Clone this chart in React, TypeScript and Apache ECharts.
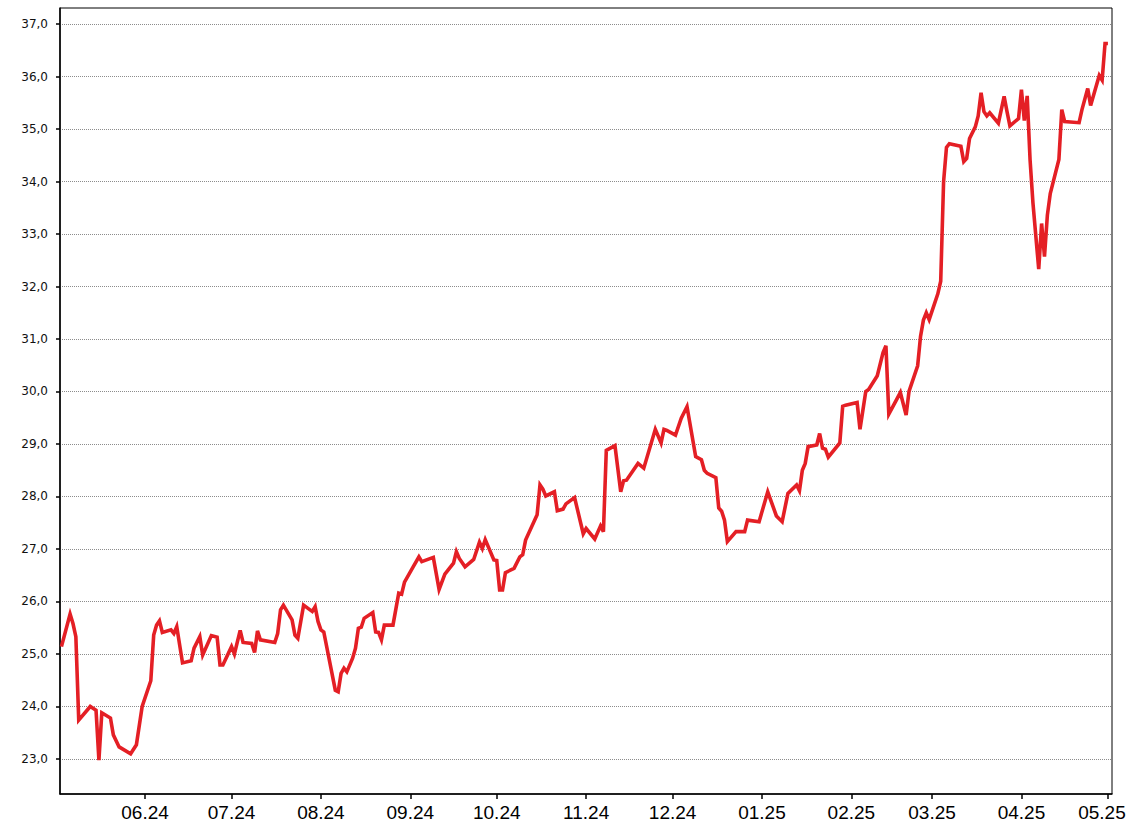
import React, { useEffect, useRef } from 'react';
import * as echarts from 'echarts';

const dates: string[] = [
  '2024-05-03', '2024-05-06', '2024-05-07', '2024-05-08', '2024-05-09', '2024-05-13', '2024-05-15', '2024-05-16',
  '2024-05-17', '2024-05-20', '2024-05-21', '2024-05-23', '2024-05-27', '2024-05-29', '2024-05-31', '2024-06-03',
  '2024-06-04', '2024-06-05', '2024-06-06', '2024-06-07', '2024-06-10', '2024-06-11', '2024-06-12', '2024-06-14',
  '2024-06-17', '2024-06-18', '2024-06-20', '2024-06-21', '2024-06-24', '2024-06-26', '2024-06-27', '2024-06-28',
  '2024-07-01', '2024-07-02', '2024-07-04', '2024-07-05', '2024-07-08', '2024-07-09', '2024-07-10', '2024-07-11',
  '2024-07-16', '2024-07-17', '2024-07-18', '2024-07-19', '2024-07-22', '2024-07-23', '2024-07-24', '2024-07-26',
  '2024-07-28', '2024-07-29', '2024-07-30', '2024-07-31', '2024-08-01', '2024-08-02', '2024-08-06', '2024-08-07',
  '2024-08-08', '2024-08-09', '2024-08-10', '2024-08-12', '2024-08-13', '2024-08-14', '2024-08-15', '2024-08-16',
  '2024-08-19', '2024-08-20', '2024-08-21', '2024-08-22', '2024-08-23', '2024-08-26', '2024-08-28', '2024-08-29',
  '2024-08-30', '2024-09-02', '2024-09-04', '2024-09-05', '2024-09-09', '2024-09-11', '2024-09-13', '2024-09-16',
  '2024-09-17', '2024-09-18', '2024-09-20', '2024-09-23', '2024-09-25', '2024-09-26', '2024-09-27', '2024-09-30',
  '2024-10-01', '2024-10-02', '2024-10-03', '2024-10-04', '2024-10-07', '2024-10-09', '2024-10-10', '2024-10-11',
  '2024-10-15', '2024-10-16', '2024-10-17', '2024-10-18', '2024-10-21', '2024-10-22', '2024-10-24', '2024-10-25',
  '2024-10-28', '2024-10-31', '2024-11-01', '2024-11-04', '2024-11-06', '2024-11-07', '2024-11-08', '2024-11-11',
  '2024-11-13', '2024-11-14', '2024-11-15', '2024-11-19', '2024-11-21', '2024-11-25', '2024-11-27', '2024-11-28',
  '2024-11-29', '2024-12-02', '2024-12-04', '2024-12-06', '2024-12-09', '2024-12-11', '2024-12-12', '2024-12-13',
  '2024-12-16', '2024-12-17', '2024-12-18', '2024-12-19', '2024-12-20', '2024-12-23', '2024-12-26', '2024-12-27',
  '2024-12-31', '2025-01-03', '2025-01-06', '2025-01-08', '2025-01-10', '2025-01-13', '2025-01-14', '2025-01-15',
  '2025-01-16', '2025-01-17', '2025-01-20', '2025-01-21', '2025-01-22', '2025-01-23', '2025-01-24', '2025-01-28',
  '2025-01-29', '2025-01-30', '2025-02-03', '2025-02-04', '2025-02-06', '2025-02-07', '2025-02-10', '2025-02-12',
  '2025-02-13', '2025-02-14', '2025-02-18', '2025-02-20', '2025-02-21', '2025-02-24', '2025-02-25', '2025-02-26',
  '2025-02-27', '2025-02-28', '2025-03-03', '2025-03-04', '2025-03-05', '2025-03-06', '2025-03-07', '2025-03-11',
  '2025-03-12', '2025-03-13', '2025-03-14', '2025-03-16', '2025-03-17', '2025-03-18', '2025-03-19', '2025-03-20',
  '2025-03-21', '2025-03-24', '2025-03-26', '2025-03-27', '2025-03-28', '2025-03-31', '2025-04-01', '2025-04-02',
  '2025-04-03', '2025-04-04', '2025-04-05', '2025-04-07', '2025-04-08', '2025-04-09', '2025-04-10', '2025-04-11',
  '2025-04-14', '2025-04-15', '2025-04-16', '2025-04-21', '2025-04-22', '2025-04-24', '2025-04-25', '2025-04-28',
  '2025-04-29', '2025-04-30', '2025-05-01',
];

const values: number[] = [
  25.14, 25.76, 25.58, 25.33, 23.74, 24.0, 23.93, 22.98,
  23.88, 23.78, 23.46, 23.23, 23.1, 23.27, 24.0, 24.49,
  25.36, 25.55, 25.63, 25.41, 25.46, 25.39, 25.52, 24.83,
  24.87, 25.11, 25.33, 24.98, 25.35, 25.32, 24.79, 24.79,
  25.14, 25.0, 25.45, 25.22, 25.2, 25.03, 25.44, 25.27,
  25.22, 25.39, 25.84, 25.93, 25.65, 25.36, 25.3, 25.93,
  25.85, 25.81, 25.9, 25.62, 25.46, 25.42, 24.31, 24.28,
  24.63, 24.73, 24.66, 24.92, 25.11, 25.49, 25.51, 25.68,
  25.79, 25.42, 25.41, 25.27, 25.55, 25.55, 26.16, 26.14,
  26.37, 26.66, 26.85, 26.76, 26.84, 26.23, 26.52, 26.73,
  26.95, 26.82, 26.66, 26.8, 27.13, 27.01, 27.18, 26.79,
  26.78, 26.22, 26.22, 26.55, 26.63, 26.85, 26.89, 27.17,
  27.65, 28.22, 28.14, 28.01, 28.09, 27.73, 27.76, 27.86,
  27.98, 27.29, 27.39, 27.19, 27.44, 27.33, 28.88, 28.97,
  28.09, 28.3, 28.31, 28.63, 28.54, 29.28, 29.02, 29.28,
  29.26, 29.17, 29.49, 29.71, 28.76, 28.7, 28.5, 28.44,
  28.36, 27.78, 27.72, 27.55, 27.14, 27.33, 27.33, 27.55,
  27.52, 28.09, 27.63, 27.52, 28.06, 28.22, 28.11, 28.5,
  28.63, 28.95, 28.98, 29.2, 28.92, 28.9, 28.75, 29.02,
  29.72, 29.74, 29.79, 29.28, 30.0, 30.04, 30.3, 30.74,
  30.87, 29.57, 29.98, 29.55, 30.0, 30.49, 31.05, 31.36,
  31.5, 31.37, 31.86, 32.1, 34.0, 34.65, 34.72, 34.67,
  34.38, 34.44, 34.82, 35.04, 35.25, 35.69, 35.33, 35.25,
  35.31, 35.11, 35.62, 35.33, 35.06, 35.2, 35.75, 35.16,
  35.63, 34.41, 33.59, 32.33, 33.2, 32.57, 33.36, 33.77,
  34.42, 35.37, 35.14, 35.12, 35.37, 35.77, 35.45, 36.02,
  35.93, 36.63, 36.63,
];

const monthTicks: string[] = [
  '2024-06-01', '2024-07-01', '2024-08-01', '2024-09-01', '2024-10-01', '2024-11-01',
  '2024-12-01', '2025-01-01', '2025-02-01', '2025-03-01', '2025-04-01', '2025-05-01',
];

const yTicks: number[] = [23, 24, 25, 26, 27, 28, 29, 30, 31, 32, 33, 34, 35, 36, 37];

const X_MIN = '2024-05-02T12:00:00Z';
const X_MAX = '2025-05-02T10:00:00Z';
const Y_MIN = 22.333;
const Y_MAX = 37.305;

const toTs = (d: string) => Date.parse(d.length === 10 ? d + 'T00:00:00Z' : d);

export default function App() {
  const ref = useRef<HTMLDivElement>(null);

  useEffect(() => {
    document.body.style.margin = '0';
    const chart = echarts.init(ref.current!, null, { renderer: 'svg' });
    const monthTs = monthTicks.map(toTs);
    const lastTs = monthTs[monthTs.length - 1];
    chart.setOption({
      animation: false,
      backgroundColor: '#fff',
      grid: {
        left: 60, top: 8, right: 16, bottom: 42,
        containLabel: false,
        outerBoundsMode: 'none',
        show: true, borderColor: '#000', borderWidth: 1, backgroundColor: 'transparent',
      },
      xAxis: {
        type: 'value',
        min: toTs(X_MIN),
        max: toTs(X_MAX),
        axisLine: { show: true, lineStyle: { color: '#000', width: 1.5 } },
        axisTick: { show: true, customValues: monthTs, length: 5, lineStyle: { color: '#000', width: 1.5 } },
        axisLabel: {
          show: true,
          customValues: monthTs,
          formatter: (v: number) => {
            const d = new Date(v);
            const m = String(d.getUTCMonth() + 1).padStart(2, '0');
            const y = String(d.getUTCFullYear() % 100).padStart(2, '0');
            const s = m + '.' + y;
            return v === lastTs ? '{edge|' + s + '}' : s;
          },
          rich: {
            edge: {
              fontFamily: '"Liberation Sans", Arial, sans-serif',
              fontSize: 19,
              color: '#000',
              padding: [0, 12, 0, 0],
            },
          },
          fontFamily: '"Liberation Sans", Arial, sans-serif',
          fontSize: 19,
          color: '#000',
          margin: 9,
        },
        splitLine: { show: false },
      },
      yAxis: {
        type: 'value',
        min: Y_MIN,
        max: Y_MAX,
        axisLine: { show: true, lineStyle: { color: '#000', width: 1.5 } },
        axisTick: { show: true, customValues: yTicks, length: 4, lineStyle: { color: '#000', width: 1.5 } },
        axisLabel: {
          show: true,
          customValues: yTicks,
          formatter: (v: number) => v.toFixed(1).replace('.', ','),
          fontFamily: '"DejaVu Sans", Verdana, sans-serif',
          fontSize: 12,
          color: '#111',
          margin: 12,
        },
        splitLine: { show: true, lineStyle: { color: '#8c8c8c', width: 1, type: [1, 1] } },
      },
      series: [
        {
          type: 'line',
          data: dates.map((d, i) => [toTs(d), values[i]]),
          symbol: 'none',
          lineStyle: { color: '#e41f25', width: 3.6, join: 'miter' },
          itemStyle: { color: '#e41f25' },
        },
      ],
    });
    return () => chart.dispose();
  }, []);

  return <div ref={ref} style={{ width: 1128, height: 836, position: 'absolute', left: 0, top: 0 }} />;
}
